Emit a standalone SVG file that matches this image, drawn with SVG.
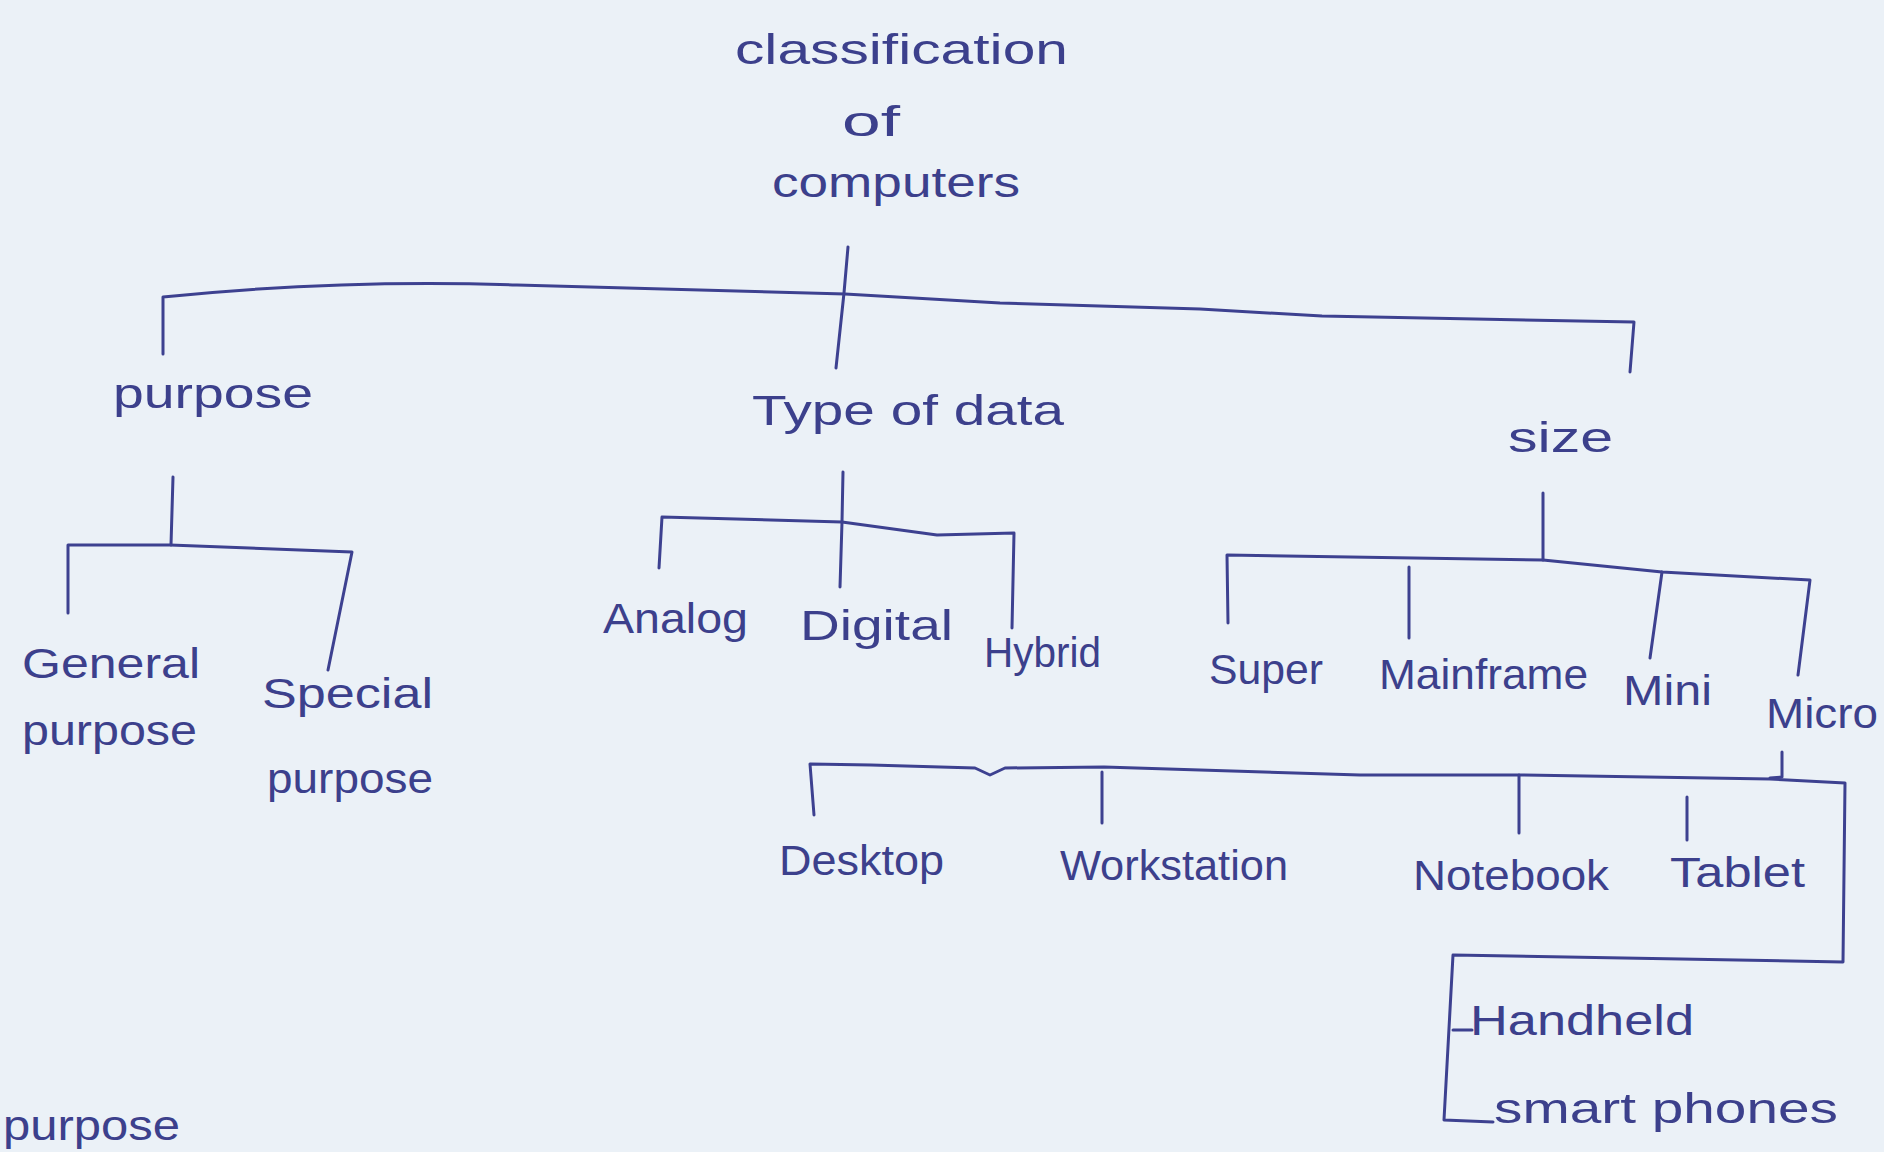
<svg xmlns="http://www.w3.org/2000/svg" width="1884" height="1152" viewBox="0 0 1884 1152">
<style>
.bg{fill:#ebf1f7}
.t{font-family:"Liberation Sans",Arial,sans-serif;fill:#3c408c;font-size:42px}
.c{fill:none;stroke:#3d4190;stroke-width:3;stroke-linejoin:round;stroke-linecap:round}
</style>
<rect class="bg" x="0" y="0" width="1884" height="1152"/>
<g id="connectors">
<path class="c" d="M848,247 L844,293 L836,368"/>
<path class="c" d="M163,354 L163,297 Q340,279 517,285 Q680,290 845,294 L1000,303 L1200,309 L1322,316 L1634,322 L1630,372"/>
<path class="c" d="M173,477 L171,545"/>
<path class="c" d="M68,613 L68,545 L170,545 L352,552 L328,670"/>
<path class="c" d="M843,472 L842,522 L840,587"/>
<path class="c" d="M659,568 L662,517 L842,522 L937,535 L1014,533 L1012,628"/>
<path class="c" d="M1543,493 L1543,560"/>
<path class="c" d="M1228,623 L1227,555 L1543,560 L1662,572 L1810,580 L1798,675"/>
<path class="c" d="M1409,567 L1409,638"/>
<path class="c" d="M1662,572 L1650,658"/>
<path class="c" d="M1782,752 L1782,777 L1770,778"/>
<path class="c" d="M814,815 L810,764 L871,765 L975,768 L990,775 L1005,768 L1104,767 L1360,775 L1519,775 L1770,779 L1845,783 L1843,962 L1453,955 L1444,1120 L1493,1122"/>
<path class="c" d="M1102,772 L1102,823"/>
<path class="c" d="M1519,775 L1519,833"/>
<path class="c" d="M1687,797 L1687,840"/>
<path class="c" d="M1453,1030 L1472,1030"/>
</g>
<g id="root">
<text class="t" x="735" y="64" font-size="44" textLength="333" lengthAdjust="spacingAndGlyphs">classification</text>
<text class="t" x="842" y="136" font-size="34" textLength="58" lengthAdjust="spacingAndGlyphs">of</text>
<text class="t" x="772" y="197" font-size="44" textLength="248" lengthAdjust="spacingAndGlyphs">computers</text>
</g>
<g id="purpose"><text class="t" x="113" y="408" textLength="200" lengthAdjust="spacingAndGlyphs">purpose</text></g>
<g id="type-of-data"><text class="t" x="752" y="425" font-size="44" textLength="312" lengthAdjust="spacingAndGlyphs">Type of data</text></g>
<g id="size"><text class="t" x="1508" y="452" font-size="46" textLength="105" lengthAdjust="spacingAndGlyphs">size</text></g>
<g id="general-purpose">
<text class="t" x="22" y="678" font-size="40" textLength="178" lengthAdjust="spacingAndGlyphs">General</text>
<text class="t" x="22" y="745" font-size="40" textLength="175" lengthAdjust="spacingAndGlyphs">purpose</text>
</g>
<g id="special-purpose">
<text class="t" x="262" y="708" font-size="40" textLength="171" lengthAdjust="spacingAndGlyphs">Special</text>
<text class="t" x="267" y="793" font-size="40" textLength="166" lengthAdjust="spacingAndGlyphs">purpose</text>
</g>
<g id="analog"><text class="t" x="603" y="633" textLength="145" lengthAdjust="spacingAndGlyphs">Analog</text></g>
<g id="digital"><text class="t" x="800" y="640" textLength="153" lengthAdjust="spacingAndGlyphs">Digital</text></g>
<g id="hybrid"><text class="t" x="984" y="667" textLength="117" lengthAdjust="spacingAndGlyphs">Hybrid</text></g>
<g id="super"><text class="t" x="1209" y="684" textLength="114" lengthAdjust="spacingAndGlyphs">Super</text></g>
<g id="mainframe"><text class="t" x="1379" y="689" textLength="209" lengthAdjust="spacingAndGlyphs">Mainframe</text></g>
<g id="mini"><text class="t" x="1623" y="705" textLength="89" lengthAdjust="spacingAndGlyphs">Mini</text></g>
<g id="micro"><text class="t" x="1766" y="728" textLength="112" lengthAdjust="spacingAndGlyphs">Micro</text></g>
<g id="desktop"><text class="t" x="779" y="875" textLength="165" lengthAdjust="spacingAndGlyphs">Desktop</text></g>
<g id="workstation"><text class="t" x="1060" y="880" textLength="228" lengthAdjust="spacingAndGlyphs">Workstation</text></g>
<g id="notebook"><text class="t" x="1413" y="890" textLength="196" lengthAdjust="spacingAndGlyphs">Notebook</text></g>
<g id="tablet"><text class="t" x="1670" y="887" textLength="135" lengthAdjust="spacingAndGlyphs">Tablet</text></g>
<g id="handheld"><text class="t" x="1470" y="1035" textLength="224" lengthAdjust="spacingAndGlyphs">Handheld</text></g>
<g id="smart-phones"><text class="t" x="1494" y="1123" textLength="344" lengthAdjust="spacingAndGlyphs">smart phones</text></g>
<g id="purpose-note"><text class="t" x="3" y="1140" textLength="177" lengthAdjust="spacingAndGlyphs">purpose</text></g>
</svg>
